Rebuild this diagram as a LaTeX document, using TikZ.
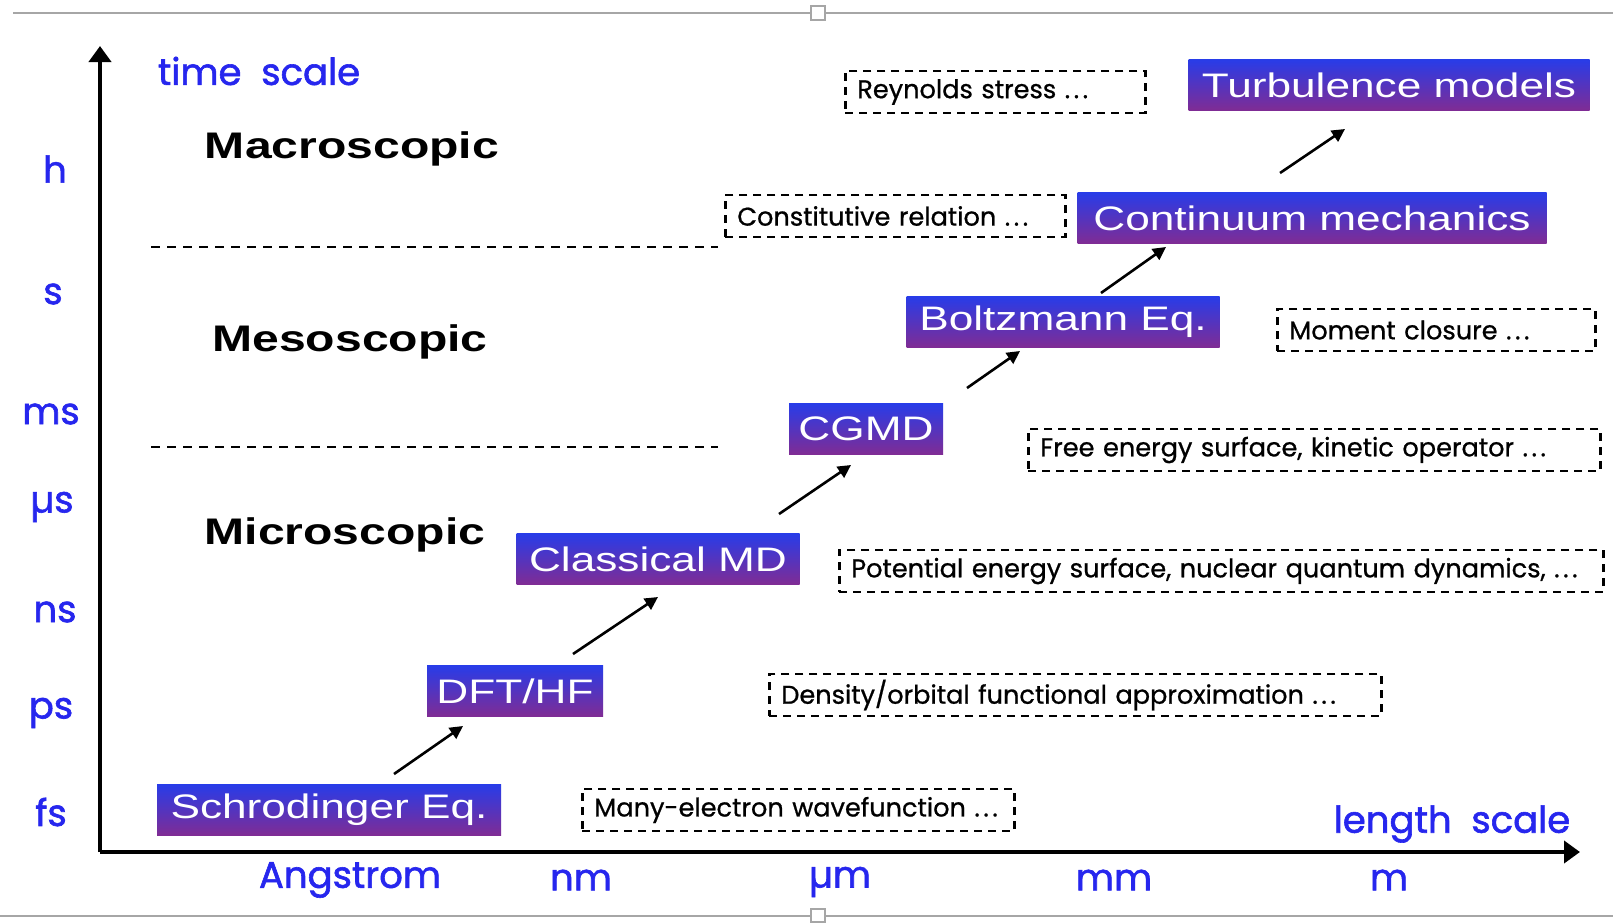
\documentclass[tikz,border=0pt]{standalone}
\usepackage{fontspec}
\setmainfont{Liberation Sans}
\newfontfamily\boxfont[FakeStretch=1.3]{Liberation Sans}
\newfontfamily\scalefont[FakeBold=1.6]{Poppins}
\newfontfamily\hintfont[FakeBold=0.8]{Poppins}
\usetikzlibrary{arrows.meta, positioning}
\definecolor{scaleblue}{RGB}{38,38,238}
\definecolor{boxtop}{RGB}{40,60,232}
\definecolor{boxbottom}{RGB}{128,44,148}
\newcommand\etcdots{.\hspace{1.8pt}.\hspace{1.8pt}.}

\begin{document}
\begin{tikzpicture}[x=0.5pt, y=-0.5pt,
     axis/.style = {line width=2pt, -{Triangle[width=11pt,length=8pt]}},
    arrow/.style = {line width=1.3pt, -{Triangle[width=6.5pt,length=6.5pt]}},
   method/.style = {top color=boxtop, bottom color=boxbottom, text=white,
                    minimum height=25.5pt, inner sep=0pt,
                    font=\boxfont\fontsize{17}{20}\selectfont},
     hint/.style = {draw, line width=1.3pt, dash pattern=on 4pt off 3pt,
                    anchor=west, minimum height=21pt, inner xsep=6pt, inner ysep=0pt,
                    align=left, font=\hintfont\fontsize{12.8}{14}\selectfont},
    level/.style = {font=\boxfont\bfseries\fontsize{18.5}{20}\selectfont},
     unit/.style = {text=scaleblue, font=\scalefont\fontsize{18.5}{20}\selectfont},
  divider/.style = {line width=1.2pt, dash pattern=on 4.5pt off 3.5pt},
   border/.style = {draw=black!35, line width=1pt}
                    ]
\useasboundingbox[fill=white] (0,0) rectangle (1613,922);
% frame of the screenshot
\draw[border] (13,13) -- (1613,13);
\draw[border] (0,916) -- (1613,916);
\draw[border, fill=white] (811,6) rectangle (825,20);
\draw[border, fill=white] (811,909) rectangle (825,922);
% axes
\coordinate (origin) at (100,852);
\coordinate (ytop)   at (100,46);
\coordinate (xend)   at (1580,852);
\draw[axis] (origin) -- (ytop);
\draw[axis] (origin) -- (xend);
\node (tlabel) [unit] at (259,71)  {time\ \ scale};
\node (llabel) [unit] at (1452,824) {length\ \ scale};
% time units
\node (th)  [unit] at (55,169) {h};
\node (ts)  [unit] at (53,294) {s};
\node (tms) [unit] at (51,414) {ms};
\node (tus) [unit] at (52,507) {µs};
\node (tns) [unit] at (55,612) {ns};
\node (tps) [unit] at (51,713) {ps};
\node (tfs) [unit] at (51,812) {fs};
% length units
\node (lA)  [unit] at (350,880)  {Angstrom};
\node (lnm) [unit] at (581,880)  {nm};
\node (lum) [unit] at (840,882)  {µm};
\node (lmm) [unit] at (1114,880) {mm};
\node (lm)  [unit] at (1389,880) {m};
% levels
\node (macro) [level] at (352,149) {Macroscopic};
\node (meso)  [level] at (350,342) {Mesoscopic};
\node (micro) [level] at (345,535) {Microscopic};
\draw[divider] (151,247) -- (718,247);
\draw[divider] (151,447) -- (718,447);
% methods
\node (schr)  [method, minimum width=172pt]   at (329,810)  {Schrodinger Eq.};
\node (dft)   [method, minimum width=88pt]    at (515,691)  {DFT/HF};
\node (cmd)   [method, minimum width=141.5pt] at (658,559)  {Classical MD};
\node (cgmd)  [method, minimum width=77pt]    at (866,429)  {CGMD};
\node (boltz) [method, minimum width=156.5pt] at (1063,322) {Boltzmann Eq.};
\node (cont)  [method, minimum width=234.5pt] at (1312,218) {Continuum mechanics};
\node (turb)  [method, minimum width=200.5pt] at (1389,85)  {Turbulence models};
% approximations
\node (many)   [hint, text width=204pt] at (581,810)  {Many-electron wavefunction \etcdots};
\node (dens)   [hint, text width=294pt] at (768,695)  {Density/orbital functional approximation \etcdots};
\node (pot)    [hint, text width=370pt] at (838,571)  {Potential energy surface, nuclear quantum dynamics, \etcdots};
\node (free)   [hint, text width=274pt] at (1027,450) {Free energy surface, kinetic operator \etcdots};
\node (moment) [hint, text width=147pt] at (1276,330) {Moment closure \etcdots};
\node (const)  [hint, text width=158pt] at (724,216)  {Constitutive relation \etcdots};
\node (reyn)   [hint, text width=138pt] at (844,92)   {Reynolds stress \etcdots};
% arrows between methods
\coordinate (a1s) at (394,774);  \coordinate (a1e) at (463,726);
\coordinate (a2s) at (573,654);  \coordinate (a2e) at (658,597);
\coordinate (a3s) at (779,514);  \coordinate (a3e) at (851,465);
\coordinate (a4s) at (967,388);  \coordinate (a4e) at (1020,351);
\coordinate (a5s) at (1101,293); \coordinate (a5e) at (1166,247);
\coordinate (a6s) at (1280,173); \coordinate (a6e) at (1345,129);
\foreach \i in {1,...,6}
  \draw[arrow] (a\i s) -- (a\i e);
\end{tikzpicture}
\end{document}
